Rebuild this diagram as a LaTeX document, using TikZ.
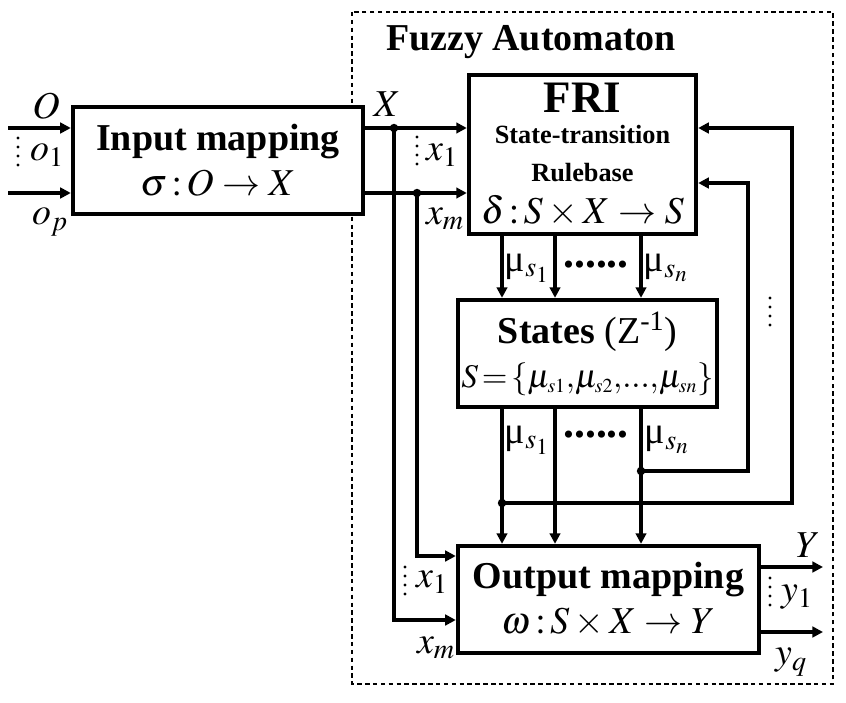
\documentclass[tikz,border=0pt]{standalone}
\usepackage{mathptmx}
\usepackage[no-math]{fontspec}
\setmainfont{Liberation Serif}
\usetikzlibrary{arrows.meta, positioning, calc}

\begin{document}
\begin{tikzpicture}[
    x=0.025cm, y=-0.025cm,
    block/.style={draw, line width=3.1pt, fill=white, align=center, inner sep=0pt},
    wire/.style={line width=2.9pt},
    arrow/.style={wire, -{Triangle[length=7.5pt, width=7.5pt]}},
    lbl/.style={inner sep=0pt, font=\fontsize{27}{30}\selectfont},
    dotcol/.style={line width=2.4pt, line cap=round, dash pattern=on 0pt off 6.4pt},
    frame/.style={draw, line width=0.8pt, dash pattern=on 3.2pt off 2.4pt}
]
    \useasboundingbox (0,0) rectangle (846,702);

    % Fuzzy automaton frame
    \draw[frame] (352,12) rectangle (833,684);
    \node[lbl, font=\fontsize{27}{30}\selectfont\bfseries] (title) at (531,42) {Fuzzy Automaton};

    % Blocks
    \node[block, minimum width=7.25cm, minimum height=2.675cm, font=\fontsize{27}{32}\selectfont] (inmap) at (218,160.5) {\textbf{Input mapping}\\$\sigma\,{:}\,O\to X$};
    \node[block, minimum width=5.675cm, minimum height=3.975cm, font=\fontsize{27}{27}\selectfont] (fri) at (582.5,154.5) {{\fontsize{32}{32}\selectfont\bfseries FRI}\\[-5pt]{\fontsize{18.7}{20}\selectfont\bfseries State-transition}\\{\fontsize{18.7}{20}\selectfont\bfseries Rulebase}\\[3pt]$\delta\,{:}\,S\times X\to S$};
    \node[block, minimum width=6.475cm, minimum height=2.675cm, font=\fontsize{27}{31}\selectfont] (states) at (587.5,353.5) {\textbf{States} (Z\textsuperscript{-1})\\{\fontsize{23.5}{31}\selectfont$S\!=\!\left\{\mu_{\scriptscriptstyle s1}{,}\mu_{\scriptscriptstyle s2}{,}{.}{.}{.}{,}\mu_{\scriptscriptstyle sn}\right\}$}};
    \node[block, minimum width=7.525cm, minimum height=2.675cm, font=\fontsize{27}{32}\selectfont] (outmap) at (608.5,599.5) {\textbf{Output mapping}\\$\omega\,{:}\,S\times X\to Y$};

    % Coordinates
    \coordinate (in1) at (8,128);
    \coordinate (inp) at (8,193);
    \coordinate (jx1) at (394,128);
    \coordinate (jxm) at (417,193);
    \coordinate (xmo) at (394,620);
    \coordinate (x1o) at (417,556);
    \coordinate (c1) at (502,0);
    \coordinate (c2) at (555,0);
    \coordinate (c3) at (641,0);
    \coordinate (fb1) at (641,471);
    \coordinate (fb2) at (502,503);
    \coordinate (r1) at (748,183);
    \coordinate (r2) at (792,128);
    \coordinate (y1) at (823,567);
    \coordinate (yq) at (823,632);

    % Inputs and outputs
    \draw[arrow] (in1) -- (in1 -| inmap.west);
    \draw[arrow] (inp) -- (inp -| inmap.west);
    \draw[arrow] (inmap.east |- jx1) -- (jx1 -| fri.west);
    \draw[arrow] (inmap.east |- jxm) -- (jxm -| fri.west);
    \draw[arrow] (jx1) -- (xmo) -- (xmo -| outmap.west);
    \draw[arrow] (jxm) -- (x1o) -- (x1o -| outmap.west);
    \draw[arrow] (outmap.east |- y1) -- (y1);
    \draw[arrow] (outmap.east |- yq) -- (yq);

    % State lines
    \foreach \c in {c1,c2,c3} {
        \draw[arrow] (fri.south -| \c) -- (states.north -| \c);
        \draw[arrow] (states.south -| \c) -- (outmap.north -| \c);
    }

    % Feedback
    \draw[arrow] (fb1) -| (r1) -- (r1 -| fri.east);
    \draw[arrow] (fb2) -| (r2) -- (r2 -| fri.east);
    \foreach \p in {jx1,jxm,fb1,fb2}
        \fill (\p) circle (3pt);

    % Labels
    \node[lbl] (lO) at (46,106) {$O$};
    \node[lbl] (lo1) at (47,155) {$o_1$};
    \node[lbl] (lop) at (50,222) {$o_p$};
    \node[lbl] (lX) at (387,104) {$X$};
    \node[lbl] (lx1) at (442,155) {$x_1$};
    \node[lbl] (lxm) at (445,219) {$x_m$};
    \node[lbl] (mu1) at (527,268) {μ$_{s_1}$};
    \node[lbl, font=\fontsize{31}{31}\selectfont] (dots1) at (596,265) {\textbf{......}};
    \node[lbl] (mun) at (666,268) {μ$_{s_n}$};
    \node[lbl] (mu1b) at (527,440) {μ$_{s_1}$};
    \node[lbl, font=\fontsize{31}{31}\selectfont] (dots2) at (596,435) {\textbf{......}};
    \node[lbl] (munb) at (667,440) {μ$_{s_n}$};
    \node[lbl] (lY) at (808,545) {$Y$};
    \node[lbl] (ly1) at (797,597) {$y_1$};
    \node[lbl] (lyq) at (791,662) {$y_q$};
    \node[lbl] (lx1b) at (432,582) {$x_1$};
    \node[lbl] (lxmb) at (436,648) {$x_m$};

    % Vertical dots
    \draw[dotcol] (18,138) -- (18,167);
    \draw[dotcol] (417,137) -- (417,165);
    \draw[dotcol] (405,567) -- (405,595);
    \draw[dotcol] (770,578) -- (770,605);
    \draw[dotcol] (770,298) -- (770,325);
\end{tikzpicture}
\end{document}
